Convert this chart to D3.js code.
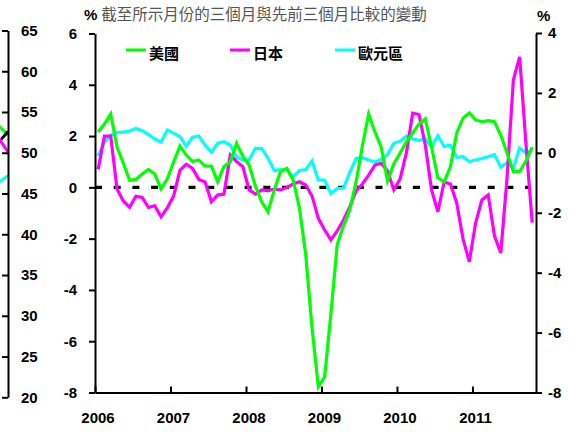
<!DOCTYPE html>
<html>
<head>
<meta charset="utf-8">
<script src="https://cdn.jsdelivr.net/npm/d3@7"></script>
<style>
body { margin: 0; background: #fff; }
text { font-family: "Liberation Sans", Arial, sans-serif; }
.cjk { font-family: "Noto Sans CJK TC", "Liberation Sans", sans-serif; }
</style>
</head>
<body>
<script>
// data: 3m/3m change, monthly Jan 2006 .. Oct 2011
var years = ["2006", "2007", "2008", "2009", "2010", "2011"];
var seriesNames = ["美國", "日本", "歐元區"];

// left scale
var us = [2.16,2.47,2.86,1.57,0.95,0.27,0.31,0.52,0.70,0.52,
  -0.06,0.33,0.99,1.61,1.26,1.01,1.07,0.83,0.83,0.22,
  0.81,0.99,1.71,1.22,0.87,0.05,-0.57,-0.95,-0.10,0.62,
  0.74,0.29,-0.80,-2.63,-5.48,-7.78,-7.39,-4.93,-2.24,-1.50,
  -0.88,0.21,1.61,2.86,2.16,1.57,0.25,0.91,1.34,1.77,
  2.12,2.47,2.67,1.57,0.37,0.21,0.80,2.12,2.70,2.90,
  2.63,2.56,2.60,2.56,2.04,1.34,0.61,0.61,1.03,1.57];
var japan = [0.70,2.00,2.00,-0.06,-0.53,-0.78,-0.35,-0.39,-0.78,-0.72,
  -1.15,-0.80,-0.34,0.66,0.90,0.74,0.31,0.21,-0.56,-0.30,
  -0.26,1.26,1.01,0.81,-0.10,-0.26,-0.10,-0.13,-0.07,-0.10,
  0.00,0.13,0.22,0.09,-0.34,-1.21,-1.66,-2.05,-1.70,-1.27,
  -0.76,-0.14,0.13,0.48,0.87,0.94,0.64,-0.10,0.33,1.34,
  2.89,2.84,1.65,-0.10,-0.95,0.21,0.13,-0.61,-2.01,-2.90,
  -1.39,-0.49,-0.30,-1.89,-2.56,0.37,4.19,5.09,1.72,-1.38];
// right scale
var euro = [-0.10,0.36,0.59,0.68,0.69,0.73,0.81,0.74,0.61,0.46,
  0.36,0.76,0.66,0.54,0.22,0.52,0.56,0.26,0.02,0.32,
  0.37,0.26,-0.14,-0.24,-0.23,0.15,0.14,-0.18,-0.59,-0.56,
  -0.58,-0.80,-0.59,-0.56,-0.27,-0.91,-0.91,-1.36,-1.19,-1.18,
  -0.65,-0.19,-0.16,-0.24,-0.31,-0.21,-0.06,0.32,0.39,0.56,
  0.46,0.42,0.46,0.19,0.57,0.21,0.26,-0.15,-0.13,-0.29,
  -0.24,-0.19,-0.13,-0.06,-0.48,-0.33,-0.51,0.16,0.00,0.09];

var leftTicks = [-8,-6,-4,-2,0,2,4,6];
var rightTicks = [-8,-6,-4,-2,0,2,4];

// edge of the previous panel (cut off at the left)
var prevTicks = [20,25,30,35,40,45,50,55,60,65];
var prevUS = [53.4, 52.2];
var prevBlack = [51.2, 52.6];
var prevJapan = [51.9, 50.1];
var prevEuro = [46.3, 47.2];

var colors = ["#00ff00", "#ff00ff", "#00ffff"];

var svg = d3.select("body").append("svg")
    .attr("width", 569)
    .attr("height", 432);

// scales
var x = d3.scaleLinear().domain([0, 70.1]).range([95, 536]);
var y = d3.scaleLinear().domain([-8, 6]).range([392.5, 33.5]);
var y2 = d3.scaleLinear().domain([-8, 4]).range([392.5, 33]);

function styleAxis(g) {
  g.selectAll("path, line").attr("stroke", "#000").attr("stroke-width", 2);
  g.selectAll("text")
    .attr("font-size", 15)
    .attr("font-weight", "bold")
    .attr("fill", "#000");
}

// previous panel fragment
var xp = d3.scaleLinear().domain([0, 1]).range([-2, 8]);
var yp = d3.scaleLinear().domain([20, 65]).range([397.3, 30.5]);

svg.append("clipPath").attr("id", "prevclip")
  .append("rect").attr("x", 0).attr("y", 0).attr("width", 8).attr("height", 432);

var prevLine = d3.line().x((d, i) => xp(i)).y(d => yp(d));
var prevG = svg.append("g").attr("clip-path", "url(#prevclip)");
[[prevUS, colors[0]], [prevBlack, "#000"], [prevJapan, colors[1]], [prevEuro, colors[2]]]
  .forEach(function(p) {
    prevG.append("path")
      .attr("d", prevLine(p[0]))
      .attr("fill", "none")
      .attr("stroke", p[1])
      .attr("stroke-width", 3);
  });

svg.append("g")
    .attr("transform", "translate(8,0)")
    .call(d3.axisRight(yp).tickValues(prevTicks).tickSizeInner(-6).tickSizeOuter(0).tickPadding(13))
    .call(styleAxis)
    .call(g => g.select(".domain").attr("fill", "none"));

// zero line
svg.append("path")
    .attr("d", d3.line()([[x(0), y(0)], [x(69), y(0)]]))
    .attr("stroke", "#000")
    .attr("stroke-width", 3.2)
    .attr("stroke-dasharray", "7,11.7");

// series
var line = d3.line().x((d, i) => x(i + 0.5)).y(d => y(d));
var line2 = d3.line().x((d, i) => x(i + 0.5)).y(d => y2(d));

svg.append("path").attr("d", line2(euro))
    .attr("fill", "none").attr("stroke", colors[2]).attr("stroke-width", 3.2);
svg.append("path").attr("d", line(japan))
    .attr("fill", "none").attr("stroke", colors[1]).attr("stroke-width", 3.2);
svg.append("path").attr("d", line(us))
    .attr("fill", "none").attr("stroke", colors[0]).attr("stroke-width", 3.2);

// axes
svg.append("g")
    .attr("transform", "translate(95,0)")
    .call(d3.axisLeft(y).tickValues(leftTicks).tickFormat(d => String(d))
      .tickSizeInner(6).tickSizeOuter(0).tickPadding(12))
    .call(styleAxis);

svg.append("g")
    .attr("transform", "translate(536,0)")
    .call(d3.axisRight(y2).tickValues(rightTicks).tickFormat(d => String(d))
      .tickSizeInner(6).tickSizeOuter(0).tickPadding(6))
    .call(styleAxis);

var xAxis = svg.append("g")
    .attr("transform", "translate(0,392.5)")
    .call(d3.axisBottom(x).tickValues(years.map((d, i) => i * 12))
      .tickFormat((d, i) => years[i]).tickSizeInner(-6).tickSizeOuter(0).tickPadding(20))
    .call(styleAxis);
xAxis.selectAll("text").attr("dx", 2.5);

// titles
var title = svg.append("text").attr("x", 84).attr("y", 20);
title.append("tspan").attr("font-size", 15).attr("font-weight", "bold").text("%");
title.append("tspan").attr("class", "cjk").attr("dx", 4).attr("font-size", 15.5)
    .attr("fill", "#555").text("截至所示月份的三個月與先前三個月比較的變動");

svg.append("text")
    .attr("x", 537).attr("y", 21)
    .attr("font-size", 15).attr("font-weight", "bold")
    .text("%");

// legend
var legendX = [126, 230, 335];
var legend = svg.selectAll(".legend")
  .data(seriesNames)
  .enter().append("g")
    .attr("class", "legend")
    .attr("transform", (d, i) => "translate(" + legendX[i] + ",50)");
legend.append("line")
    .attr("x1", 0).attr("x2", 20)
    .attr("stroke", (d, i) => colors[i]).attr("stroke-width", 3);
legend.append("text")
    .attr("class", "cjk")
    .attr("x", 23).attr("y", 9)
    .attr("font-size", 15).attr("font-weight", "bold")
    .text(d => d);
</script>
</body>
</html>
